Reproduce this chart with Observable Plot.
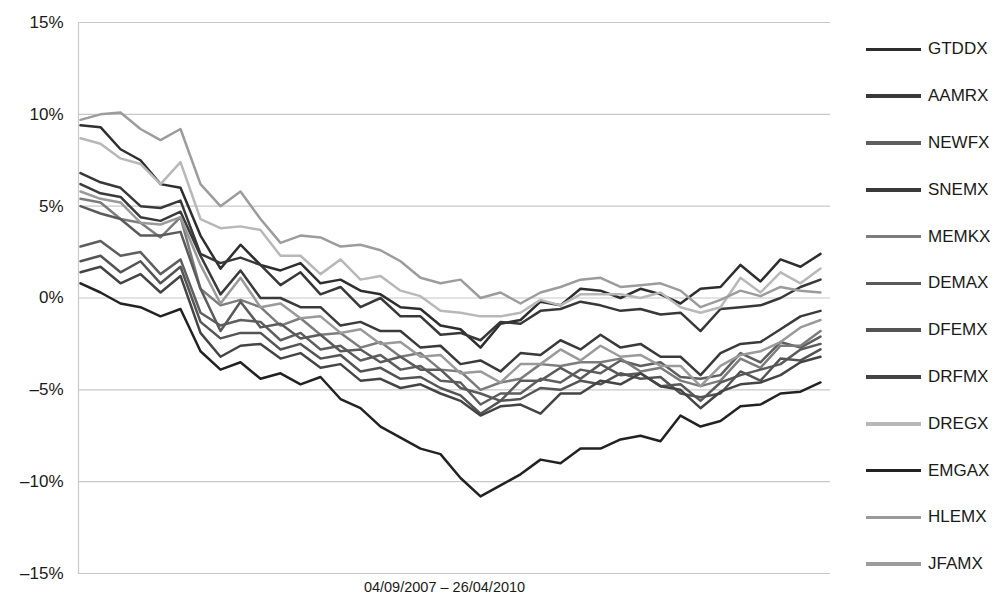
<!DOCTYPE html>
<html>
<head>
<meta charset="utf-8">
<script src="https://cdn.jsdelivr.net/npm/d3@7"></script>
<script src="https://cdn.jsdelivr.net/npm/@observablehq/plot@0.6"></script>
<style>
  html, body { margin: 0; padding: 0; background: #fff; }
  #wrap { position: relative; width: 996px; height: 605px; font-family: "Liberation Sans", Arial, sans-serif; }
  #legend { position: absolute; left: 866px; top: 26px; }
  .row { height: 46.8px; display: flex; align-items: center; }
  .sw { width: 55px; height: 3.5px; margin-right: 7px; }
  .lab { font-size: 17px; color: #1a1a1a; }
</style>
</head>
<body>
<div id="wrap"><div id="chart"></div><div id="legend"></div></div>
<script>
const periodLabel = "04/09/2007 – 26/04/2010";
const yTicks = [-15, -10, -5, 0, 5, 10, 15];
const funds = ["GTDDX","AAMRX","NEWFX","SNEMX","MEMKX","DEMAX","DFEMX","DRFMX","DREGX","EMGAX","HLEMX","JFAMX"];
// sampled points across the period
const steps = d3.range(38);

const gtddx = [9.4, 9.3, 8.1, 7.5, 6.2, 6.0, 3.4, 1.6, 2.9, 1.8, 1.5, 1.9, 0.8, 1.0, 0.4, 0.2, -0.5, -0.6, -1.5, -1.7, -2.7, -1.4, -1.2, -0.2, -0.4, 0.5, 0.4, 0.0, 0.5, 0.2, -0.3, 0.5, 0.6, 1.8, 0.9, 2.1, 1.7, 2.4];
const aamrx = [6.8, 6.3, 6.0, 5.0, 4.9, 5.3, 2.4, 1.9, 2.2, 1.8, 0.7, 1.4, 0.2, 0.6, -0.5, 0.0, -1.0, -1.0, -2.0, -1.9, -2.3, -1.3, -1.4, -0.7, -0.6, -0.2, -0.4, -0.7, -0.6, -0.9, -0.8, -1.8, -0.6, -0.5, -0.4, 0.0, 0.6, 1.0];
const newfx = [2.8, 3.1, 2.3, 2.5, 1.3, 2.1, -0.8, -1.5, -1.2, -1.3, -2.3, -1.9, -2.8, -2.6, -3.4, -3.1, -3.9, -3.7, -4.5, -4.6, -5.8, -5.2, -5.2, -4.4, -4.6, -3.9, -4.1, -3.4, -3.7, -3.5, -4.3, -4.4, -4.2, -3.0, -3.5, -2.4, -2.7, -2.1];
const snemx = [6.2, 5.7, 5.5, 4.4, 4.2, 4.7, 2.3, 0.2, 1.5, 0.0, 0.0, -0.5, -0.5, -1.5, -1.3, -1.8, -1.8, -2.7, -2.6, -3.6, -3.4, -4.0, -3.0, -3.1, -2.3, -2.8, -2.0, -2.7, -2.5, -3.2, -3.2, -4.2, -3.0, -2.5, -2.4, -1.7, -1.0, -0.7];
const memkx = [5.4, 5.2, 4.3, 4.1, 3.3, 4.4, 0.5, -0.4, -0.1, -0.5, -1.5, -1.1, -2.0, -1.9, -2.7, -2.4, -3.2, -3.0, -3.9, -4.0, -5.0, -4.6, -4.4, -3.6, -3.7, -3.5, -3.5, -3.3, -4.0, -3.8, -4.5, -4.8, -4.5, -3.3, -3.8, -2.6, -2.6, -1.8];
const demax = [5.0, 4.6, 4.3, 3.4, 3.4, 3.6, 0.5, -1.8, -0.2, -1.6, -1.4, -2.2, -2.0, -2.9, -2.8, -3.5, -3.2, -3.9, -3.9, -4.9, -5.2, -5.6, -4.5, -4.5, -3.8, -4.4, -3.6, -4.2, -4.1, -4.8, -4.7, -5.6, -4.6, -4.2, -3.9, -3.6, -2.8, -2.5];
const dfemx = [2.0, 2.3, 1.4, 2.0, 0.8, 1.7, -1.3, -2.2, -1.9, -1.9, -2.8, -2.5, -3.3, -3.1, -4.0, -3.8, -4.4, -4.3, -4.9, -5.3, -6.3, -5.6, -5.5, -4.9, -5.0, -4.5, -4.7, -4.1, -4.4, -4.3, -5.2, -5.4, -5.2, -4.0, -4.5, -3.3, -3.4, -2.8];
const drfmx = [1.4, 1.7, 0.8, 1.3, 0.3, 1.2, -1.9, -3.2, -2.6, -2.5, -3.3, -3.0, -3.8, -3.6, -4.5, -4.4, -4.9, -4.7, -5.2, -5.6, -6.4, -5.9, -5.8, -6.3, -5.2, -5.2, -4.5, -4.7, -4.1, -4.8, -5.0, -6.0, -5.1, -4.7, -4.6, -4.2, -3.5, -3.2];
const dregx = [8.7, 8.4, 7.6, 7.3, 6.2, 7.4, 4.3, 3.8, 3.9, 3.7, 2.3, 2.3, 1.3, 2.1, 1.0, 1.2, 0.4, 0.1, -0.7, -0.8, -1.0, -1.0, -0.8, -0.1, -0.4, 0.2, 0.2, 0.2, 0.0, 0.3, -0.5, -0.8, -0.5, 1.1, 0.3, 1.4, 0.8, 1.6];
const emgax = [0.8, 0.3, -0.3, -0.5, -1.0, -0.6, -2.9, -3.9, -3.5, -4.4, -4.1, -4.7, -4.3, -5.5, -6.0, -7.0, -7.6, -8.2, -8.5, -9.8, -10.8, -10.2, -9.6, -8.8, -9.0, -8.2, -8.2, -7.7, -7.5, -7.8, -6.4, -7.0, -6.7, -5.9, -5.8, -5.2, -5.1, -4.6];
const hlemx = [5.8, 5.4, 5.2, 4.1, 4.0, 4.4, 1.8, -0.3, 1.1, -0.5, -0.3, -1.1, -1.0, -1.9, -1.7, -2.5, -2.4, -3.2, -3.1, -4.1, -4.0, -4.6, -3.6, -3.6, -2.8, -3.4, -2.6, -3.2, -3.1, -3.7, -3.7, -4.8, -3.7, -3.1, -2.9, -2.4, -1.6, -1.2];
const jfamx = [9.7, 10.0, 10.1, 9.2, 8.6, 9.2, 6.2, 5.0, 5.8, 4.3, 3.0, 3.4, 3.3, 2.8, 2.9, 2.6, 2.0, 1.1, 0.8, 1.0, 0.0, 0.3, -0.3, 0.3, 0.6, 1.0, 1.1, 0.6, 0.7, 0.8, 0.4, -0.5, -0.1, 0.4, 0.1, 0.6, 0.4, 0.3];

const seriesValues = [gtddx, aamrx, newfx, snemx, memkx, demax, dfemx, drfmx, dregx, emgax, hlemx, jfamx];
const fundColors = ["#2e2e2e","#383838","#5e5e5e","#3a3a3a","#7c7c7c","#5a5a5a","#545454","#444444","#b8b8b8","#222222","#9a9a9a","#9c9c9c"];

const rows = funds.flatMap((f, k) => steps.map(i => ({fund: f, step: i, value: seriesValues[k][i]})));

const fmt = d => (d < 0 ? "–" : "") + Math.abs(d) + "%";

const chart = Plot.plot({
  width: 996,
  height: 605,
  marginLeft: 80,
  marginRight: 176,
  marginTop: 22,
  marginBottom: 32,
  style: {fontFamily: "'Liberation Sans', Arial, sans-serif", background: "#fff"},
  x: {domain: [0, 37], axis: null},
  y: {domain: [-15, 15]},
  color: {domain: funds, range: fundColors},
  marks: [
    Plot.ruleY(yTicks, {stroke: "#c8c8c8", strokeWidth: 1.2, insetLeft: -2, insetRight: -10}),
    Plot.ruleX([0], {stroke: "#c8c8c8", strokeWidth: 1.2, dx: -2}),
    Plot.axisY({ticks: yTicks, tickFormat: fmt, tickSize: 0, tickPadding: 17, fontSize: 17, label: null, fill: "#1a1a1a"}),
    Plot.line(rows, {x: "step", y: "value", z: "fund", stroke: "fund", strokeWidth: 2.5, strokeLinejoin: "round"}),
    Plot.text([periodLabel], {frameAnchor: "bottom", dy: 18, dx: -6, fontSize: 14.5, fill: "#1a1a1a"})
  ]
});
document.getElementById("chart").appendChild(chart);

const legend = document.getElementById("legend");
funds.forEach((f, k) => {
  const row = document.createElement("div");
  row.className = "row";
  const sw = document.createElement("div");
  sw.className = "sw";
  sw.style.background = fundColors[k];
  const lab = document.createElement("span");
  lab.className = "lab";
  lab.textContent = f;
  row.appendChild(sw);
  row.appendChild(lab);
  legend.appendChild(row);
});
</script>
</body>
</html>
